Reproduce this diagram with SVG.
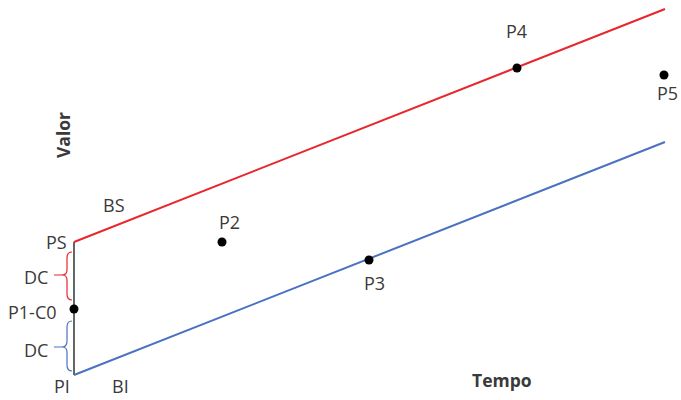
<svg xmlns="http://www.w3.org/2000/svg" width="681" height="400" viewBox="0 0 681 400">
<style>
text{font-family:"Open Sans","Noto Sans",sans-serif;font-size:18px;fill:#3a3a3a}
.b{font-weight:bold;font-size:17.5px}
.dot{fill:#000}
</style>
<rect width="681" height="400" fill="#fff"/>
<g id="connectors" fill="none" stroke-width="2">
<line x1="74" y1="242" x2="74" y2="375" stroke="#333" stroke-width="1.5"/>
<line id="BS-line" x1="74" y1="242" x2="665" y2="9" stroke="#e8262b"/>
<line id="BI-line" x1="74" y1="375" x2="665" y2="142" stroke="#4a72c0"/>
<path d="M72 252 Q67 252 67 258 L67 270 Q67 275 62 275 Q67 275 67 280 L67 294 Q67 300 72 300 M62 275 L54 275" stroke="#e8262b" stroke-width="1.2"/>
<path d="M72 321 Q67 321 67 327 L67 341 Q67 347 62 347 Q67 347 67 352 L67 365 Q67 371 72 371 M62 347 L54 347" stroke="#4a72c0" stroke-width="1.2"/>
</g>
<g id="P1-C0"><circle class="dot" cx="74" cy="309" r="4.5"/><text x="8" y="319">P1-C0</text></g>
<g id="PS"><text x="46" y="249">PS</text></g>
<g id="PI"><text x="54" y="393">PI</text></g>
<g id="BS"><text x="103" y="212">BS</text></g>
<g id="BI"><text x="112" y="393">BI</text></g>
<g id="DC1"><text x="24" y="284">DC</text></g>
<g id="DC2"><text x="24" y="357">DC</text></g>
<g id="P2"><circle class="dot" cx="222" cy="242" r="4.5"/><text x="219" y="229">P2</text></g>
<g id="P3"><circle class="dot" cx="369" cy="260" r="4.5"/><text x="364" y="290">P3</text></g>
<g id="P4"><circle class="dot" cx="517" cy="68" r="4.5"/><text x="506" y="38">P4</text></g>
<g id="P5"><circle class="dot" cx="664" cy="75" r="4.5"/><text x="657" y="100">P5</text></g>
<g id="Valor"><text class="b" transform="translate(70 158) rotate(-90)">Valor</text></g>
<g id="Tempo"><text class="b" x="472" y="387">Tempo</text></g>
</svg>
